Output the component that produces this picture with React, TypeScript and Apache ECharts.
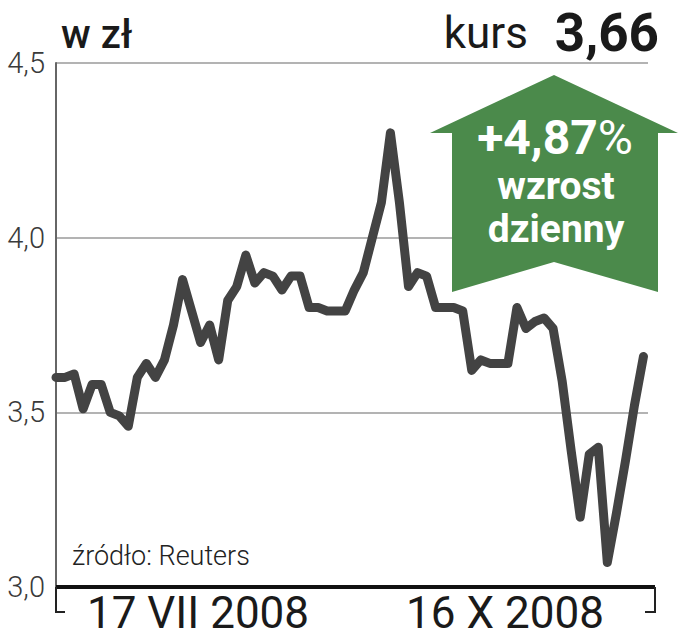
import React, { useEffect, useRef } from "react";
import * as echarts from "echarts";

// Daily closing price (PLN), 17 VII 2008 – 16 X 2008
const days: number[] = [
  0, 1, 2, 3, 4, 5, 6, 7, 8, 9, 10, 11, 12, 13, 14, 15, 16, 17, 18, 19, 20, 21,
  22, 23, 24, 25, 26, 27, 28, 29, 30, 31, 32, 33, 34, 35, 36, 37, 38, 39, 40,
  41, 42, 43, 44, 45, 46, 47, 48, 49, 50, 51, 52, 53, 54, 55, 56, 57, 58, 59,
  60, 61, 62, 63, 64, 65,
];
const prices: number[] = [
  3.6, 3.6, 3.61, 3.51, 3.58, 3.58, 3.5, 3.49, 3.46, 3.6, 3.64, 3.6, 3.65,
  3.75, 3.88, 3.79, 3.7, 3.75, 3.65, 3.82, 3.86, 3.95, 3.87, 3.9, 3.89, 3.85,
  3.89, 3.89, 3.8, 3.8, 3.79, 3.79, 3.79, 3.85, 3.9, 4.0, 4.1, 4.3, 4.1, 3.86,
  3.9, 3.89, 3.8, 3.8, 3.8, 3.79, 3.62, 3.65, 3.64, 3.64, 3.64, 3.8, 3.74,
  3.76, 3.77, 3.74, 3.59, 3.39, 3.2, 3.38, 3.4, 3.07, 3.21, 3.36, 3.52, 3.66,
];
const yTicks: number[] = [3.0, 3.5, 4.0, 4.5];
const dateLabels: string[] = ["17 VII 2008", "16 X 2008"];
const unitLabel = "w zł";
const kursLabel = "kurs";
const kursValue = "3,66";
const changeLabel = "+4,87";
const changeWords: string[] = ["wzrost", "dzienny"];
const sourceLabel = "źródło: Reuters";

const FONT = "Roboto, 'Liberation Sans', sans-serif";
const GREEN = "#4b8a4b";

export default function App() {
  const ref = useRef<HTMLDivElement>(null);
  useEffect(() => {
    if (!ref.current) return;
    const chart = echarts.init(ref.current, null, { renderer: "svg" });
    const data = days.map((d, i) => [d, prices[i]]);
    chart.setOption({
      animation: false,
      backgroundColor: "#ffffff",
      grid: { left: 56, right: 32, top: 63, bottom: 53 },
      xAxis: {
        type: "value",
        min: 0,
        max: 65.5,
        axisLine: { show: false },
        axisTick: { show: false },
        axisLabel: { show: false },
        splitLine: { show: false },
      },
      yAxis: {
        type: "value",
        min: yTicks[0],
        max: yTicks[yTicks.length - 1],
        interval: 0.5,
        axisLine: { show: true, lineStyle: { color: "#666666", width: 2 } },
        axisTick: { show: false },
        axisLabel: {
          margin: 11,
          color: "#3a3a3a",
          fontSize: 29,
          fontFamily: FONT,
          fontWeight: 300,
          formatter: (v: number) => v.toFixed(1).replace(".", ","),
        },
        splitLine: { show: true, lineStyle: { color: "#9a9a9a", width: 1.5 } },
      },
      series: [
        {
          type: "line",
          data,
          symbol: "none",
          lineStyle: { color: "#434343", width: 9, cap: "round", join: "round" },
          z: 3,
        },
      ],
      graphic: [
        // bottom axis and date bracket
        { type: "line", shape: { x1: 56, y1: 587, x2: 655, y2: 587 }, style: { stroke: "#111", lineWidth: 4 }, z: 10 },
        { type: "polyline", shape: { points: [[56, 587], [56, 612], [65, 612]] }, style: { stroke: "#222", lineWidth: 2, fill: null }, z: 10 },
        { type: "polyline", shape: { points: [[655, 587], [655, 612], [645, 612]] }, style: { stroke: "#222", lineWidth: 2, fill: null }, z: 10 },
        { type: "text", x: 198, y: 613, style: { text: dateLabels[0], fontSize: 44, fontFamily: FONT, fill: "#1a1a1a", align: "center", verticalAlign: "middle" }, z: 10 },
        { type: "text", x: 505, y: 613, style: { text: dateLabels[1], fontSize: 44, fontFamily: FONT, fill: "#1a1a1a", align: "center", verticalAlign: "middle" }, z: 10 },
        // headers
        { type: "text", x: 61, y: 34, style: { text: unitLabel, fontSize: 40, fontWeight: 500, fontFamily: FONT, fill: "#1a1a1a", align: "left", verticalAlign: "middle" }, z: 10 },
        { type: "text", x: 528, y: 33, style: { text: kursLabel, fontSize: 44, fontFamily: FONT, fill: "#1a1a1a", align: "right", verticalAlign: "middle" }, z: 10 },
        { type: "text", x: 659, y: 33, style: { text: kursValue, fontSize: 53, fontWeight: "bold", fontFamily: FONT, fill: "#1a1a1a", align: "right", verticalAlign: "middle" }, z: 10 },
        // source
        { type: "text", x: 72, y: 556, style: { text: sourceLabel, fontSize: 27, fontWeight: 300, fontFamily: FONT, fill: "#222", align: "left", verticalAlign: "middle" }, z: 10 },
        // green arrow
        {
          type: "polygon",
          shape: {
            points: [
              [554, 75], [678, 133], [658, 133], [658, 292], [554, 262],
              [452, 292], [452, 133], [430, 133],
            ],
          },
          style: { fill: GREEN },
          z: 20,
        },
        {
          type: "text",
          x: 555,
          y: 137,
          style: {
            text: "{a|" + changeLabel + "}{b|%}",
            align: "center",
            verticalAlign: "middle",
            rich: {
              a: { fontSize: 48, fontWeight: "bold", fontFamily: FONT, fill: "#ffffff", color: "#ffffff", lineHeight: 42 },
              b: { fontSize: 48, fontWeight: "normal", fontFamily: FONT, fill: "#ffffff", color: "#ffffff", lineHeight: 42 },
            },
          },
          z: 21,
        },
        { type: "text", x: 556, y: 186, style: { text: changeWords[0], fontSize: 39, fontWeight: "bold", fontFamily: FONT, fill: "#ffffff", align: "center", verticalAlign: "middle", lineHeight: 34 }, z: 21 },
        { type: "text", x: 556, y: 229, style: { text: changeWords[1], fontSize: 39, fontWeight: "bold", fontFamily: FONT, fill: "#ffffff", align: "center", verticalAlign: "middle", lineHeight: 34 }, z: 21 },
      ],
    });
    return () => chart.dispose();
  }, []);
  return (
    <div
      ref={ref}
      style={{ position: "fixed", left: 0, top: 0, width: 680, height: 640 }}
    />
  );
}
